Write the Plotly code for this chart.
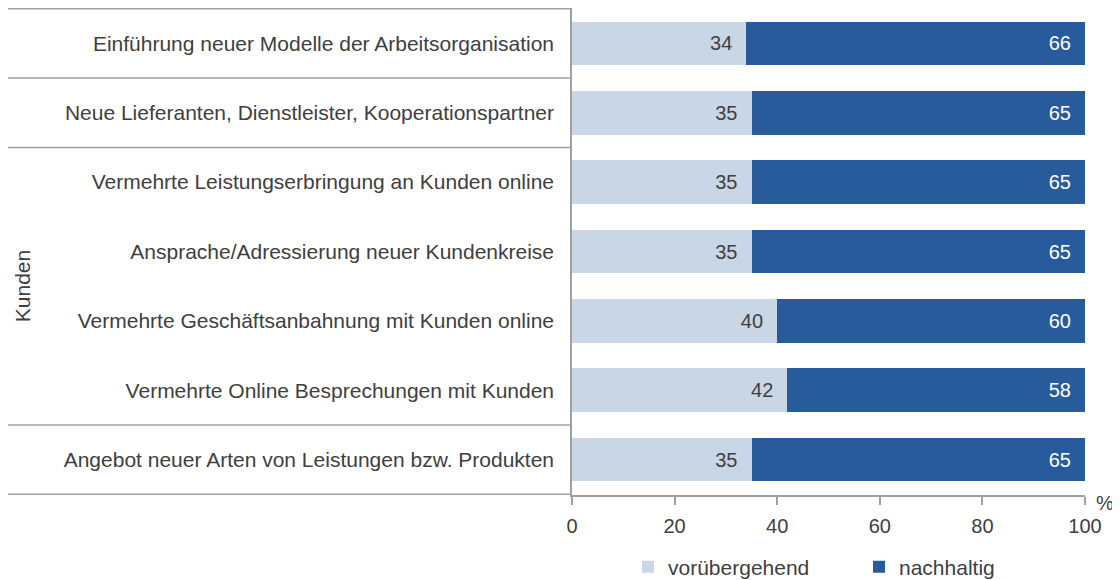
import plotly.graph_objects as go

categories = [
    "Einführung neuer Modelle der Arbeitsorganisation",
    "Neue Lieferanten, Dienstleister, Kooperationspartner",
    "Vermehrte Leistungserbringung an Kunden online",
    "Ansprache/Adressierung neuer Kundenkreise",
    "Vermehrte Geschäftsanbahnung mit Kunden online",
    "Vermehrte Online Besprechungen mit Kunden",
    "Angebot neuer Arten von Leistungen bzw. Produkten",
]
voruebergehend = [34, 35, 35, 35, 40, 42, 35]
nachhaltig = [66, 65, 65, 65, 60, 58, 65]
x_ticks = [0, 20, 40, 60, 80, 100]
separators = [0.5, 1.5, 5.5]  # group boundaries between categories
group_label = "Kunden"

# the page body has an 8px margin, so the figure is sized to the visible window
OFF = 8
W, H = 1120 - OFF, 580 - OFF
FONT = "Liberation Sans, Arial, sans-serif"
FS = 21
TXT = "#404040"
LIGHT = "#C9D6E6"
DARK = "#285B9B"
AXIS = "#A0A0A0"


def px(sx):
    return (sx - OFF) / W


def py(sy):
    return 1 - (sy - OFF) / H


x0p, x1p = px(572), px(1085)

fig = go.Figure()
fig.add_trace(go.Bar(
    y=categories, x=voruebergehend, orientation="h", name="vorübergehend",
    marker=dict(color=LIGHT, line=dict(width=0)), width=0.63,
    texttemplate="%{x}\u00a0\u00a0", textposition="inside", insidetextanchor="end",
    textfont=dict(color=TXT, size=20, family=FONT), hoverinfo="skip",
))
fig.add_trace(go.Bar(
    y=categories, x=nachhaltig, orientation="h", name="nachhaltig",
    marker=dict(color=DARK, line=dict(width=0)), width=0.63,
    texttemplate="%{x}\u00a0\u00a0", textposition="inside", insidetextanchor="end",
    textfont=dict(color="white", size=20, family=FONT), hoverinfo="skip",
))

shapes = []
for b in [-0.5] + separators + [len(categories) - 0.5]:
    shapes.append(dict(type="line", xref="paper", yref="y", x0=px(8), x1=x0p,
                       y0=b, y1=b, line=dict(color=AXIS, width=1.5)))

fig.update_layout(
    width=W, height=H, margin=dict(l=0, r=0, t=0, b=0, autoexpand=False),
    paper_bgcolor="white", plot_bgcolor="white",
    barmode="stack",
    font=dict(family=FONT, size=FS, color=TXT),
    xaxis=dict(domain=[x0p, x1p], range=[0, 100], tickvals=x_ticks, automargin=False,
               showgrid=False, zeroline=False, showline=True, linecolor=AXIS, linewidth=1.5,
               ticks="outside", ticklen=8, tickcolor=AXIS, tickwidth=1.5,
               ticklabelstandoff=4, tickfont=dict(size=20, color=TXT)),
    yaxis=dict(domain=[py(495), py(8)], autorange="reversed", automargin=False,
               showgrid=False, zeroline=False, showline=True, linecolor=AXIS, linewidth=1.5,
               ticks="", ticklabelstandoff=12, tickfont=dict(size=FS, color=TXT)),
    shapes=shapes,
    legend=dict(orientation="h", xanchor="left", yanchor="middle", x=px(628), y=py(567),
                traceorder="normal",
                font=dict(size=FS, color=TXT, family=FONT), itemwidth=30,
                entrywidth=186, entrywidthmode="pixels",
                bgcolor="rgba(0,0,0,0)", borderwidth=0),
    annotations=[
        dict(text="%", xref="paper", yref="paper", x=px(1105), y=py(503),
             xanchor="center", yanchor="middle",
             showarrow=False, font=dict(size=20, color=TXT)),
        dict(text=group_label, xref="paper", yref="y", x=px(22), y=3.5, textangle=-90,
             xanchor="center", yanchor="middle",
             showarrow=False, font=dict(size=FS, color=TXT)),
    ],
)
fig.write_html("out.html")
